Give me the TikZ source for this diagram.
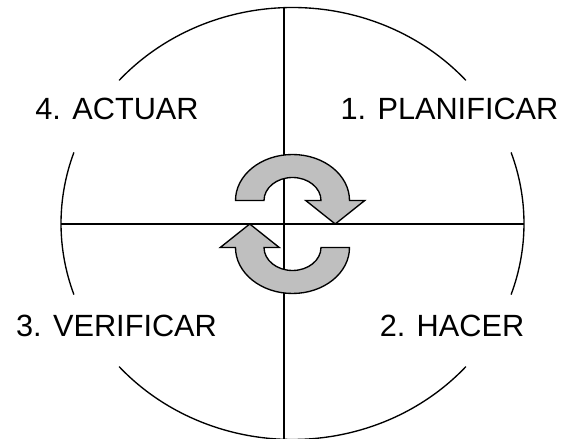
\documentclass[tikz,border=0pt]{standalone}
\usepackage{fontspec}
\setmainfont{Liberation Sans}
\begin{document}
\begin{tikzpicture}[x=1pt,y=1pt,
  ln/.style={line width=1.35pt,black},
  cyc/.style={line width=1.35pt,draw=black,fill=gray!50!white,line join=miter},
  lbl/.style={anchor=base,inner sep=0pt,font=\fontsize{30.7}{36}\selectfont}]
\useasboundingbox (0,0) rectangle (566,439);
\coordinate (C) at (292.5,215.5);
\coordinate (vt) at (284,431.4);
\coordinate (vb) at (284,-0.4);
\coordinate (hl) at (61,215);
\coordinate (hr) at (524,215);
% circle arcs
\draw[ln] (C) ++(41.5:231.5 and 216) arc[start angle=41.5,end angle=138.5,x radius=231.5,y radius=216];
\draw[ln] (C) ++(160.8:231.5 and 216) arc[start angle=160.8,end angle=199.2,x radius=231.5,y radius=216];
\draw[ln] (C) ++(221.5:231.5 and 216) arc[start angle=221.5,end angle=318.5,x radius=231.5,y radius=216];
\draw[ln] (C) ++(-19.2:231.5 and 216) arc[start angle=-19.2,end angle=19.2,x radius=231.5,y radius=216];
% axes
\draw[ln] (vt) -- (vb);
\draw[ln] (hl) -- (hr);
% upper cycle arrow
\draw[cyc] (235.5,238.5) arc[start angle=180,end angle=0,x radius=57,y radius=46]
  -- (364.75,238.5) -- (335.25,215) -- (305.75,238.5) -- (321,238.5)
  arc[start angle=0,end angle=180,x radius=28.5,y radius=23] -- cycle;
% lower cycle arrow
\draw[cyc] (349.5,191.5) arc[start angle=0,end angle=-180,x radius=57,y radius=46]
  -- (220.25,191.5) -- (249.75,215) -- (279.25,191.5) -- (264,191.5)
  arc[start angle=180,end angle=360,x radius=28.5,y radius=23] -- cycle;
% labels
\node[lbl] (act) at (117,319) {4. ACTUAR};
\node[lbl] (pla) at (449.5,319) {1. PLANIFICAR};
\node[lbl] (ver) at (116.5,102.5) {3. VERIFICAR};
\node[lbl] (hac) at (452,102.5) {2. HACER};
\end{tikzpicture}
\end{document}
